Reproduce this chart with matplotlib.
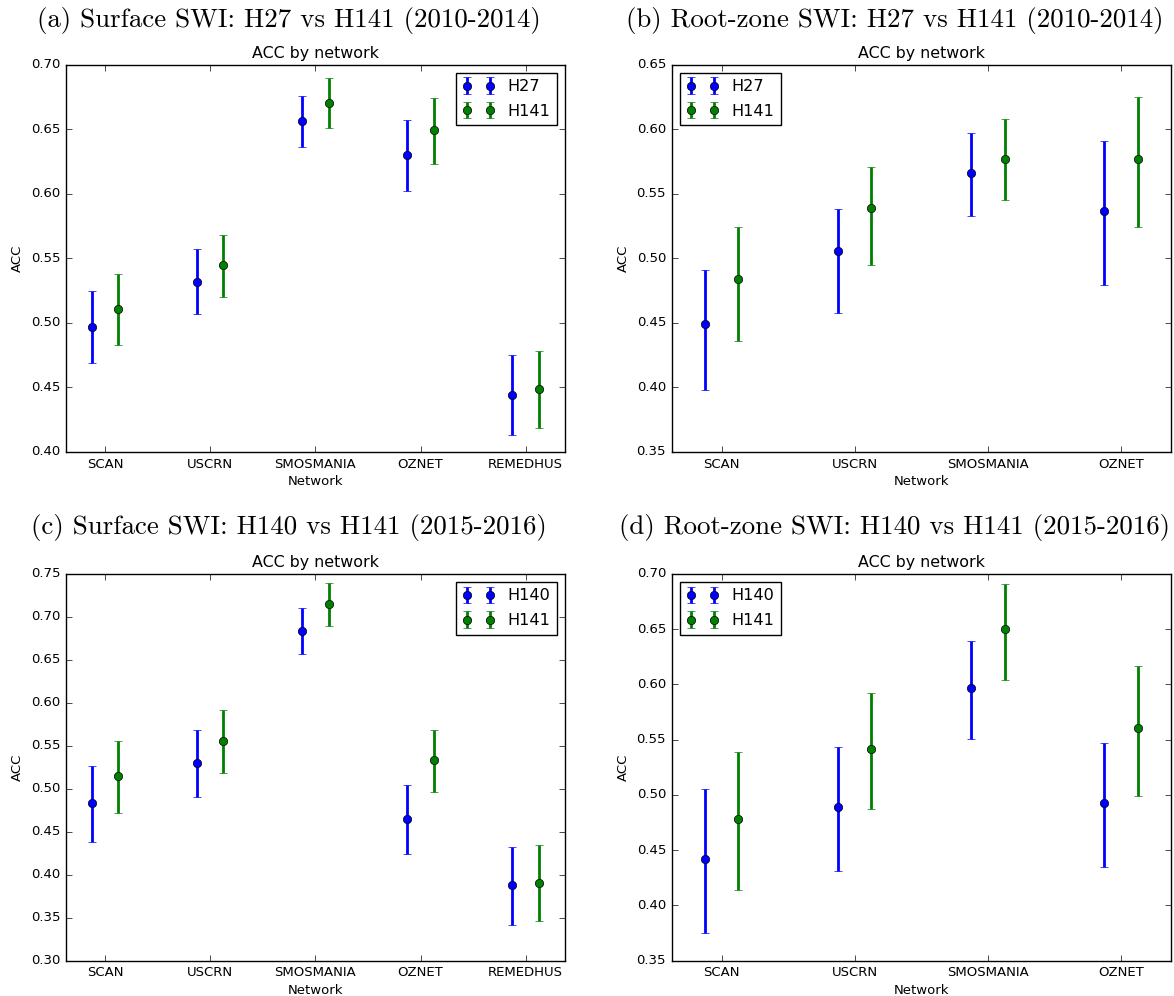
import matplotlib
matplotlib.use('Agg')
import matplotlib.pyplot as plt
from matplotlib.ticker import MultipleLocator, FormatStrFormatter
import numpy as np

NETWORKS = ['SCAN', 'USCRN', 'SMOSMANIA', 'OZNET', 'REMEDHUS']

# ACC with lower / upper confidence bounds
# (a) surface SWI, H27 vs H141
a_h27 = [0.497, 0.532, 0.656, 0.630, 0.4445]
a_h27_lo = [0.469, 0.507, 0.636, 0.602, 0.4135]
a_h27_hi = [0.525, 0.557, 0.676, 0.657, 0.475]
a_h141 = [0.5105, 0.5446, 0.6706, 0.649, 0.4486]
a_h141_lo = [0.483, 0.520, 0.651, 0.623, 0.4184]
a_h141_hi = [0.538, 0.568, 0.690, 0.674, 0.478]

# (b) root-zone SWI, H27 vs H141
b_h27 = [0.449, 0.506, 0.566, 0.537]
b_h27_lo = [0.398, 0.458, 0.533, 0.479]
b_h27_hi = [0.491, 0.538, 0.597, 0.591]
b_h141 = [0.484, 0.539, 0.577, 0.577]
b_h141_lo = [0.436, 0.495, 0.545, 0.524]
b_h141_hi = [0.524, 0.571, 0.608, 0.625]

# (c) surface SWI, H140 vs H141
c_h140 = [0.484, 0.530, 0.684, 0.465, 0.388]
c_h140_lo = [0.438, 0.490, 0.657, 0.424, 0.342]
c_h140_hi = [0.527, 0.568, 0.710, 0.504, 0.432]
c_h141 = [0.515, 0.556, 0.7155, 0.533, 0.391]
c_h141_lo = [0.472, 0.518, 0.690, 0.496, 0.346]
c_h141_hi = [0.556, 0.5915, 0.739, 0.569, 0.435]

# (d) root-zone SWI, H140 vs H141
d_h140 = [0.442, 0.489, 0.597, 0.493]
d_h140_lo = [0.375, 0.4315, 0.5505, 0.435]
d_h140_hi = [0.505, 0.543, 0.639, 0.547]
d_h141 = [0.4785, 0.5415, 0.650, 0.561]
d_h141_lo = [0.414, 0.487, 0.604, 0.499]
d_h141_hi = [0.5385, 0.592, 0.691, 0.617]

plt.style.use('classic')
plt.rcParams['font.size'] = 9.5

panels = [
    dict(caption='(a) Surface SWI: H27 vs H141 (2010-2014)', names=('H27', 'H141'),
         series=((a_h27, a_h27_lo, a_h27_hi), (a_h141, a_h141_lo, a_h141_hi)),
         ylim=(0.40, 0.70), loc='upper right',
         rect=[0.0560, 0.5462, 0.4253, 0.3889], cap=(0.246, 0.979)),
    dict(caption='(b) Root-zone SWI: H27 vs H141 (2010-2014)', names=('H27', 'H141'),
         series=((b_h27, b_h27_lo, b_h27_hi), (b_h141, b_h141_lo, b_h141_hi)),
         ylim=(0.35, 0.65), loc='upper left',
         rect=[0.5721, 0.5462, 0.4253, 0.3889], cap=(0.762, 0.979)),
    dict(caption='(c) Surface SWI: H140 vs H141 (2015-2016)', names=('H140', 'H141'),
         series=((c_h140, c_h140_lo, c_h140_hi), (c_h141, c_h141_lo, c_h141_hi)),
         ylim=(0.30, 0.75), loc='upper right',
         rect=[0.0560, 0.0354, 0.4253, 0.3883], cap=(0.246, 0.470)),
    dict(caption='(d) Root-zone SWI: H140 vs H141 (2015-2016)', names=('H140', 'H141'),
         series=((d_h140, d_h140_lo, d_h140_hi), (d_h141, d_h141_lo, d_h141_hi)),
         ylim=(0.35, 0.70), loc='upper left',
         rect=[0.5721, 0.0354, 0.4253, 0.3883], cap=(0.762, 0.470)),
]

fig = plt.figure(figsize=(11.74, 9.96), dpi=100, facecolor='white')

for p in panels:
    ax = fig.add_axes(p['rect'])
    n = len(p['series'][0][0])
    x = np.arange(n)
    for offset, name, (vals, lo, hi), color in zip((-0.125, 0.125), p['names'],
                                                    p['series'], ('b', 'g')):
        vals, lo, hi = np.array(vals), np.array(lo), np.array(hi)
        ax.errorbar(x + offset, vals, yerr=[vals - lo, hi - vals], fmt='o',
                    color=color, ecolor=color, elinewidth=2, capthick=1, capsize=3,
                    markersize=6, markeredgecolor='k', markeredgewidth=0.5, label=name)
    ax.set_xticks(x)
    ax.set_xticklabels(NETWORKS[:n])
    ax.set_xlim(-0.375, n - 0.625)
    ax.set_ylim(*p['ylim'])
    ax.yaxis.set_major_locator(MultipleLocator(0.05))
    ax.yaxis.set_major_formatter(FormatStrFormatter('%.2f'))
    ax.set_title('ACC by network', fontsize=11.4)
    ax.set_xlabel('Network', labelpad=3.5)
    ax.set_ylabel('ACC')
    ax.legend(loc=p['loc'], numpoints=2, fontsize=11.6, labelspacing=0.6)
    fig.text(p['cap'][0], p['cap'][1], p['caption'], family='cmr10', fontsize=19.4,
             ha='center', va='center')

fig.savefig('out.png', dpi=100, facecolor='white')
